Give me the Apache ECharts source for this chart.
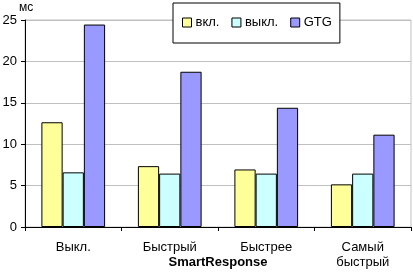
<!DOCTYPE html>
<html>
<head>
<meta charset="utf-8">
<script src="https://cdn.jsdelivr.net/npm/echarts@6/dist/echarts.min.js"></script>
<style>
  html, body { margin: 0; padding: 0; background: #fff; }
  #chart { width: 413px; height: 272px; }
</style>
</head>
<body>
<div id="chart"></div>
<script>
"use strict";

const categories = ["Выкл.", "Быстрый", "Быстрее", "Самый\nбыстрый"];
const seriesNames = ["вкл.", "выкл.", "GTG"];
const onValues = [12.65, 7.35, 6.95, 5.15];
const offValues = [6.6, 6.45, 6.45, 6.45];
const gtgValues = [24.45, 18.75, 14.4, 11.15];
const colors = ["#ffff99", "#ccffff", "#9999ff"];

const FONT = "'Liberation Sans', Arial, sans-serif";

function makeSeries(name, data, color) {
    return {
        name, type: "bar", data,
        barGap: "0%", barCategoryGap: "34%",
        itemStyle: { color, borderColor: "#000", borderWidth: 1 }
    };
}

const chart = echarts.init(document.getElementById("chart"), null, { renderer: "canvas" });
chart.setOption({
    animation: false,
    backgroundColor: "#fff",
    textStyle: { fontFamily: FONT, color: "#000" },
    grid: {
        left: 25, right: 2, top: 20, bottom: 45,
        containLabel: false, outerBoundsMode: "none",
        show: true, borderColor: "#c0c0c0", borderWidth: 1
    },
    legend: {
        left: 173, top: 3,
        padding: [13, 8, 14, 9],
        itemWidth: 9, itemHeight: 9, itemGap: 12,
        backgroundColor: "#fff", borderColor: "#000", borderWidth: 1,
        textStyle: { fontFamily: FONT, fontSize: 13, color: "#000", padding: [0, 0, 0, -1] },
        itemStyle: { borderColor: "#000", borderWidth: 1 },
        data: seriesNames.map(n => ({ name: n, icon: "rect" }))
    },
    xAxis: {
        type: "category", data: categories,
        name: "SmartResponse", nameLocation: "middle", nameGap: 29, nameMoveOverlap: false,
        nameTextStyle: { fontFamily: FONT, fontSize: 13, fontWeight: "bold", color: "#000" },
        axisLine: { lineStyle: { color: "#000", width: 1 } },
        axisTick: { show: true, length: 4, lineStyle: { color: "#000" } },
        axisLabel: { fontFamily: FONT, fontSize: 13, color: "#000", margin: 13, lineHeight: 15 }
    },
    yAxis: {
        type: "value", min: 0, max: 25, interval: 5,
        name: "мс", nameGap: 6, nameLocation: "end",
        nameTextStyle: { fontFamily: FONT, fontSize: 12, color: "#000", align: "left", padding: [0, 0, 0, -6] },
        axisLine: { show: true, lineStyle: { color: "#000", width: 1 } },
        axisTick: { show: true, length: 4, lineStyle: { color: "#000" } },
        axisLabel: { fontFamily: FONT, fontSize: 13, color: "#000", margin: 8 },
        splitLine: { lineStyle: { color: "#c0c0c0", width: 1 } }
    },
    series: [
        makeSeries(seriesNames[0], onValues, colors[0]),
        makeSeries(seriesNames[1], offValues, colors[1]),
        makeSeries(seriesNames[2], gtgValues, colors[2])
    ]
});
</script>
</body>
</html>
